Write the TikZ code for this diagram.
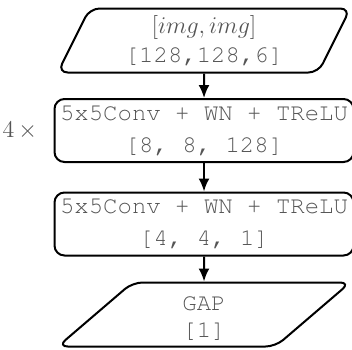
\documentclass[tikz,border=0pt]{standalone}
\usepackage[T1]{fontenc}
\usepackage{courier}
\usetikzlibrary{arrows.meta,shapes.geometric}
\definecolor{txtgray}{RGB}{85,85,85}

\tikzset{
  io/.style={trapezium, trapezium left angle=66, trapezium right angle=114,
    trapezium stretches=true, draw, line width=1pt, rounded corners=5pt,
    minimum width=146.5pt, minimum height=32pt, inner sep=0pt,
    align=center, text=txtgray, font=\ttfamily\fontsize{12}{14}\selectfont},
  layer/.style={rectangle, draw, line width=1pt, rounded corners=5pt,
    minimum width=149.5pt, minimum height=31.5pt, inner sep=0pt,
    align=center, text=txtgray, font=\ttfamily\fontsize{12}{16}\selectfont},
  flow/.style={-{Latex[length=6.5pt,width=5.5pt]}, line width=1pt}
}

\begin{document}
\begin{tikzpicture}[x=0.5pt,y=0.5pt,yscale=-1,xscale=1]
\useasboundingbox (0,0) rectangle (352,349);

% input
\node[io, font=\ttfamily\fontsize{12}{14.5}\selectfont] (inp) at (204,40.5)
  {$[img,img]$\\{[128,128,6]}};
% repeated conv block
\node[layer] (conv1) at (204,130.5) {5x5Conv + WN + TReLU\\{[8, 8, 128]}};
\node[anchor=east, inner sep=0pt, text=txtgray, font=\fontsize{12}{14}\selectfont] (rep)
  at ([xshift=-8pt]conv1.west) {$4\,\times$};
% last conv block
\node[layer] (conv2) at (204,224) {5x5Conv + WN + TReLU\\{[4, 4, 1]}};
% output
\node[io, font=\ttfamily\fontsize{12}{13.5}\selectfont] (gap) at (204,314.5)
  {\rule{0pt}{10.5pt}GAP\\{[1]}};

% Arrows
\draw[flow] (inp) -- (conv1);
\draw[flow] (conv1) -- (conv2);
\draw[flow] (conv2) -- (gap);

\end{tikzpicture}
\end{document}
